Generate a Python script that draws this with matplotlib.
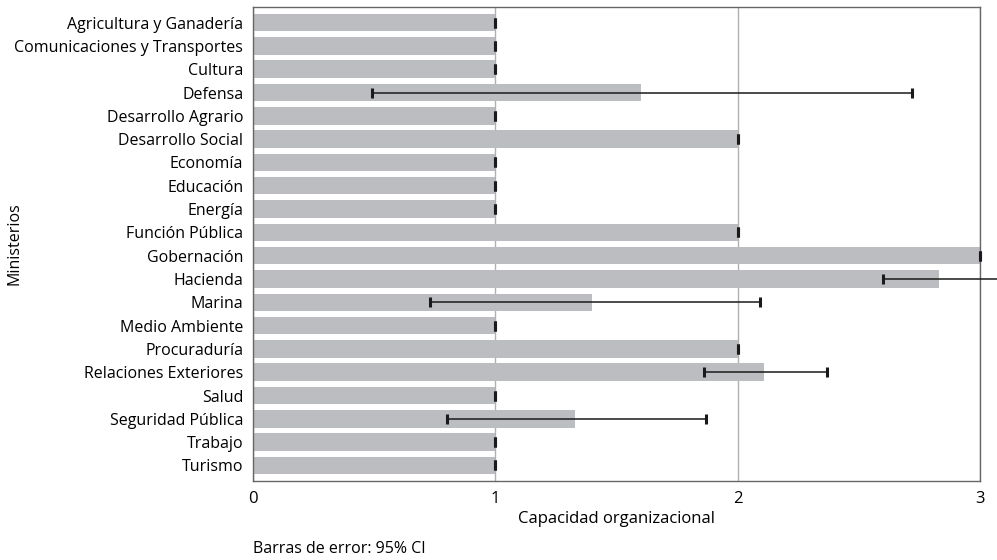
import matplotlib
matplotlib.use("Agg")
import matplotlib.pyplot as plt
import numpy as np

ministerios = ["Agricultura y Ganadería", "Comunicaciones y Transportes", "Cultura",
               "Defensa", "Desarrollo Agrario", "Desarrollo Social", "Economía",
               "Educación", "Energía", "Función Pública", "Gobernación", "Hacienda",
               "Marina", "Medio Ambiente", "Procuraduría", "Relaciones Exteriores",
               "Salud", "Seguridad Pública", "Trabajo", "Turismo"]
capacidad = [1, 1, 1, 1.6, 1, 2, 1, 1, 1, 2, 3, 2.83, 1.40, 1, 2, 2.11, 1, 1.33, 1, 1]
ci_bajo = [1, 1, 1, 0.49, 1, 2, 1, 1, 1, 2, 3, 2.60, 0.73, 1, 2, 1.86, 1, 0.80, 1, 1]
ci_alto = [1, 1, 1, 2.72, 1, 2, 1, 1, 1, 2, 3, 3.08, 2.09, 1, 2, 2.37, 1, 1.87, 1, 1]

plt.rcParams["font.family"] = ["Open Sans", "DejaVu Sans"]

fig = plt.figure(figsize=(9.97, 5.6), dpi=100)
ax = fig.add_axes([0.2538, 0.141, 0.983 - 0.2538, 0.9875 - 0.141])

y = np.arange(len(ministerios))
cap = np.array(capacidad)
err = np.vstack([cap - np.array(ci_bajo), np.array(ci_alto) - cap])

ax.barh(y, cap, height=0.75, color="#bcbdc0", zorder=2)
eb = ax.errorbar(cap, y, xerr=err, fmt="none", ecolor="#1a1a1a", elinewidth=1.1,
                 capsize=3.3, capthick=2.2, zorder=3)
for art in eb.lines[1] + eb.lines[2]:
    art.set_clip_on(False)

ax.set_xlim(0, 3)
ax.set_ylim(len(ministerios) - 0.33, -0.67)
ax.set_yticks(y)
ax.set_yticklabels(ministerios, fontsize=11.5)
ax.set_xticks([0, 1, 2, 3])
ax.set_xticklabels(["0", "1", "2", "3"], fontsize=12)
ax.tick_params(axis="both", length=0, pad=7)
ax.xaxis.grid(True, color="#b0b0b0", linewidth=1, zorder=0)
ax.set_axisbelow(True)
for s in ax.spines.values():
    s.set_color("#666666")
    s.set_linewidth(1)

ax.set_xlabel("Capacidad organizacional", fontsize=12, labelpad=3)
ax.set_ylabel("Ministerios", fontsize=11.5)
ax.yaxis.set_label_coords(-0.317, 0.5)
fig.text(0.2538, 0.005, "Barras de error: 95% CI", fontsize=11.5, ha="left", va="bottom")

fig.savefig("out.png", dpi=100)
